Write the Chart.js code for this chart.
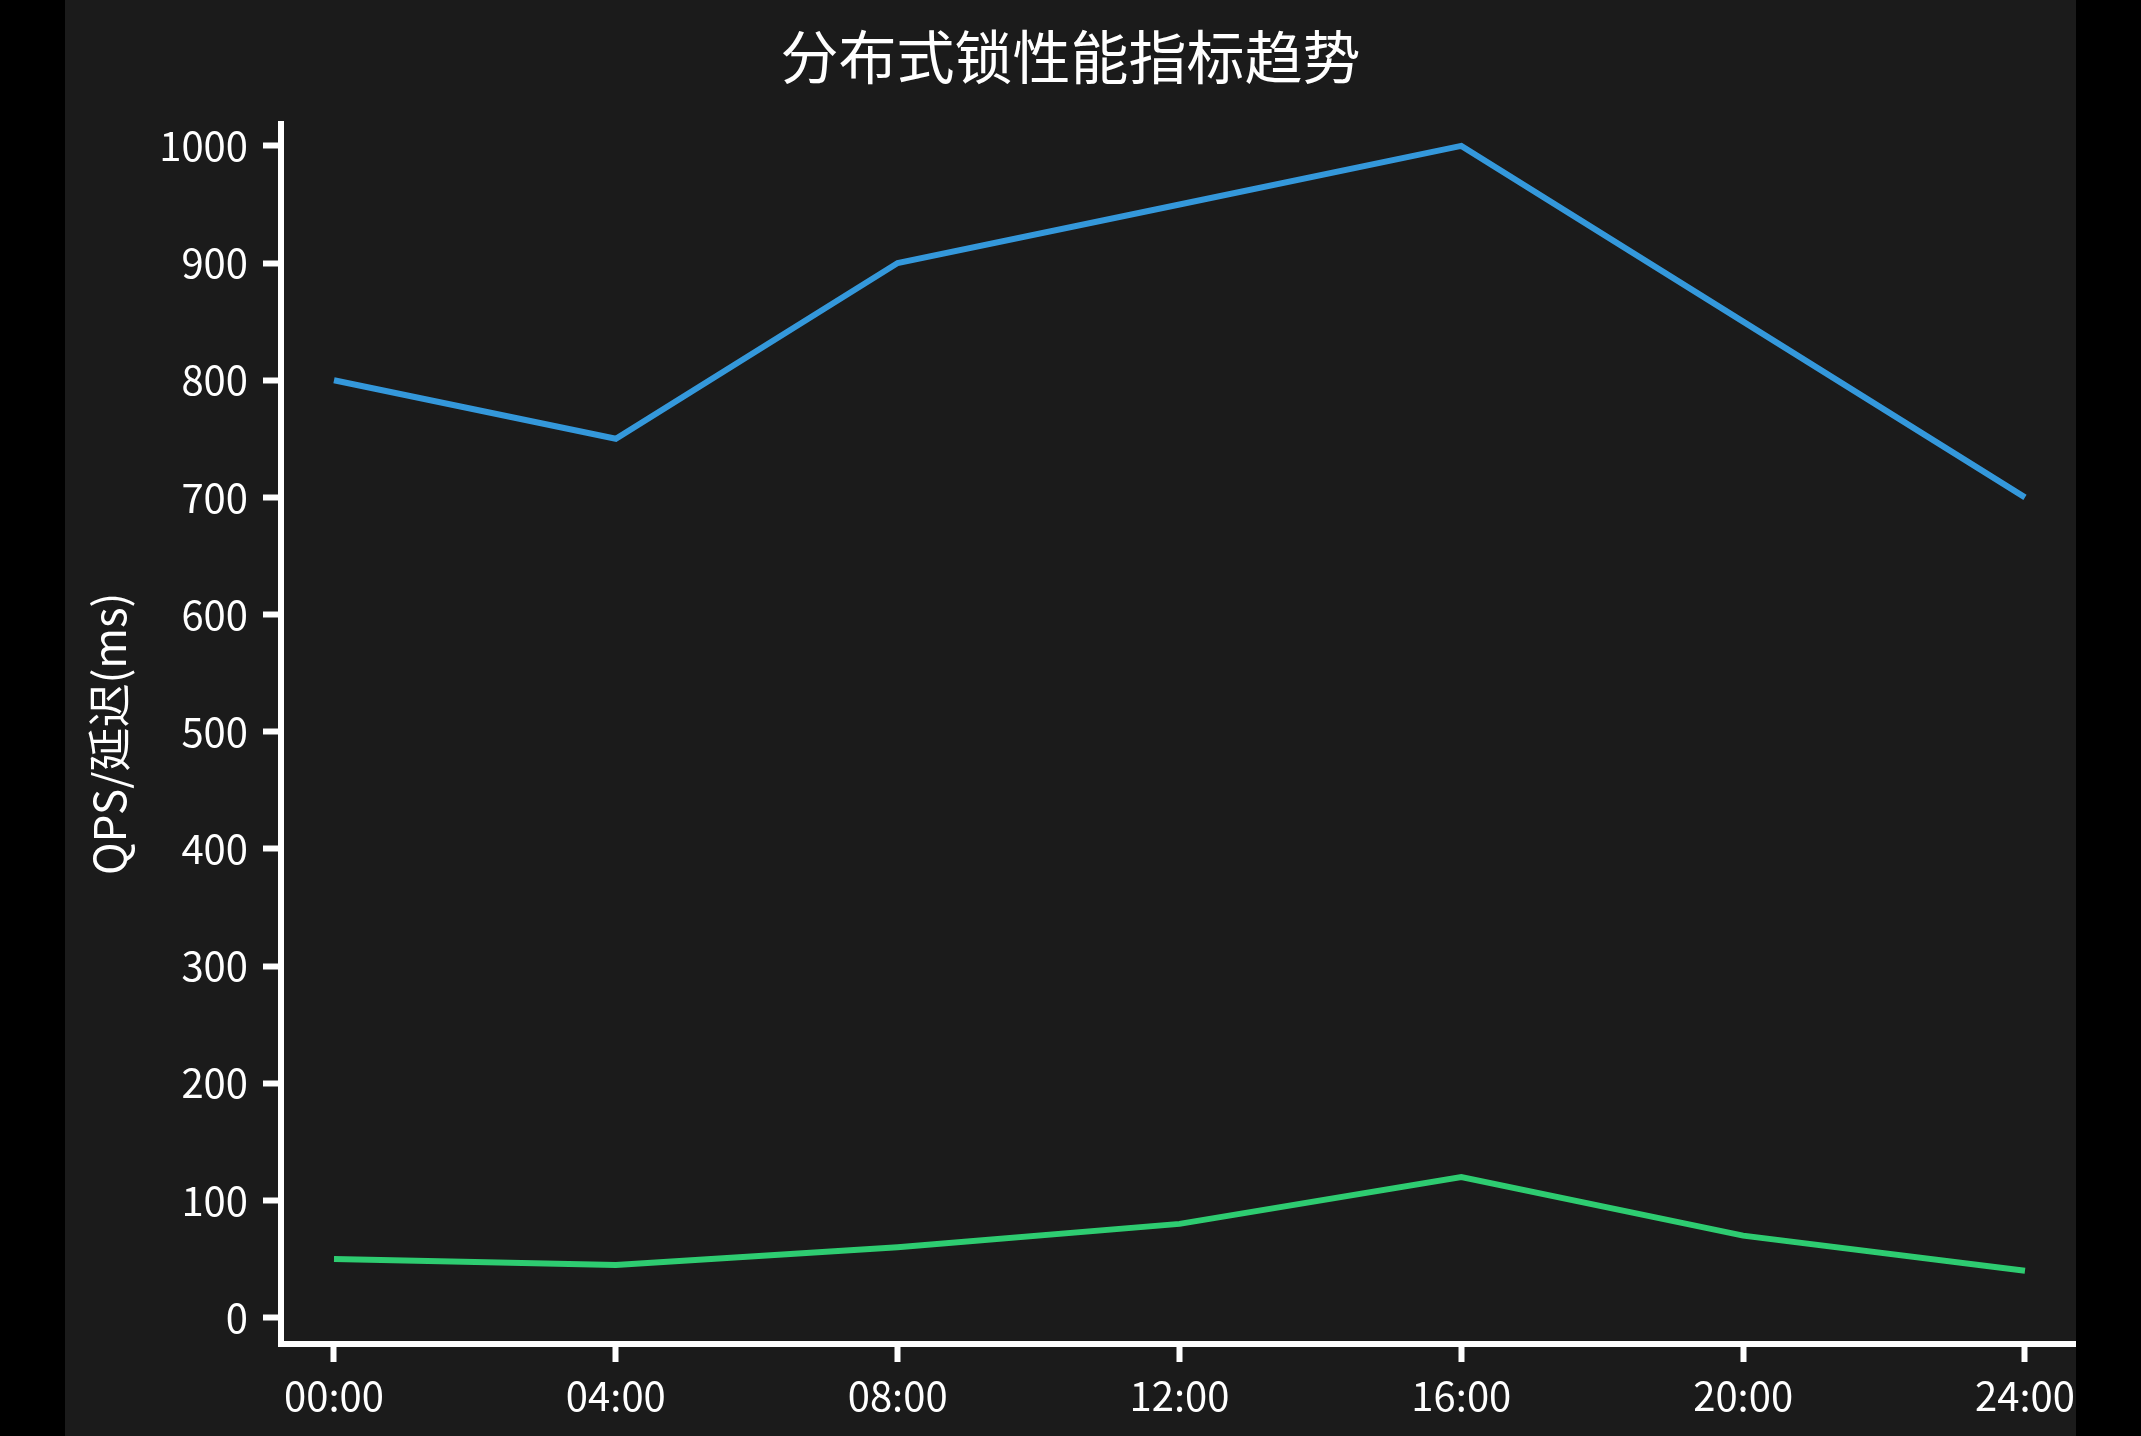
<!DOCTYPE html>
<html>
<head>
<meta charset="utf-8">
<script src="https://cdn.jsdelivr.net/npm/chart.js@4/dist/chart.umd.min.js"></script>
<style>
  html, body { margin: 0; padding: 0; background: #000; }
  #wrap { position: absolute; left: 65px; top: 0; width: 2011px; height: 1436px; background: #1b1b1b; }
</style>
</head>
<body>
<div id="wrap"><canvas id="chart"></canvas></div>
<script>
// Datos del gráfico
const hours = ['00:00', '04:00', '08:00', '12:00', '16:00', '20:00', '24:00'];
const qps = [800, 750, 900, 950, 1000, 850, 700];
const latency = [50, 45, 60, 80, 120, 70, 40];
const yTicks = [0, 100, 200, 300, 400, 500, 600, 700, 800, 900, 1000];

const FONT = '"Noto Sans CJK SC", sans-serif';
const WHITE = '#ffffff';

// Los puntos se colocan por índice sobre un eje lineal
function toPoints(values) {
  return values.map((v, i) => ({ x: i, y: v }));
}

const ctx = document.getElementById('chart').getContext('2d');
const chart = new Chart(ctx, {
  type: 'line',
  data: {
    datasets: [
      {
        label: 'QPS',
        data: toPoints(qps),
        borderColor: '#3498db',
        borderWidth: 6,
        pointRadius: 0,
        tension: 0,
        fill: false
      },
      {
        label: '延迟(ms)',
        data: toPoints(latency),
        borderColor: '#2ecc71',
        borderWidth: 6,
        pointRadius: 0,
        tension: 0,
        fill: false
      }
    ]
  },
  options: {
    responsive: true,
    maintainAspectRatio: false,
    animation: false,
    layout: { padding: 0 },
    plugins: {
      legend: { display: false },
      tooltip: { enabled: false },
      title: {
        display: true,
        text: '分布式锁性能指标趋势',
        color: WHITE,
        font: { family: FONT, size: 58, weight: 'normal' },
        padding: { top: 22, bottom: 32 }
      }
    },
    scales: {
      x: {
        type: 'linear',
        min: -0.188,
        max: 6.181,
        afterBuildTicks: scale => { scale.ticks = hours.map((h, i) => ({ value: i })); },
        afterFit: scale => {
          scale.height = 92;
          scale.paddingLeft = 0;
          scale.paddingRight = 0;
        },
        ticks: {
          color: WHITE,
          font: { family: FONT, size: 40 },
          padding: 10,
          maxRotation: 0,
          callback: v => hours[v]
        },
        grid: {
          drawOnChartArea: false,
          drawTicks: true,
          tickLength: 18,
          tickWidth: 6,
          tickColor: WHITE
        },
        border: { display: true, color: WHITE, width: 6 }
      },
      y: {
        min: -22.5,
        max: 1019,
        afterBuildTicks: scale => { scale.ticks = yTicks.map(v => ({ value: v })); },
        afterFit: scale => { scale.width = 216; },
        ticks: {
          color: WHITE,
          font: { family: FONT, size: 40 },
          padding: 15,
          callback: v => String(v)
        },
        grid: {
          drawOnChartArea: false,
          drawTicks: true,
          tickLength: 18,
          tickWidth: 6,
          tickColor: WHITE
        },
        border: { display: true, color: WHITE, width: 6 },
        title: {
          display: true,
          text: 'QPS/延迟(ms)',
          color: WHITE,
          font: { family: FONT, size: 44 },
          padding: { top: 18, bottom: 18 }
        }
      }
    }
  }
});
</script>
</body>
</html>
